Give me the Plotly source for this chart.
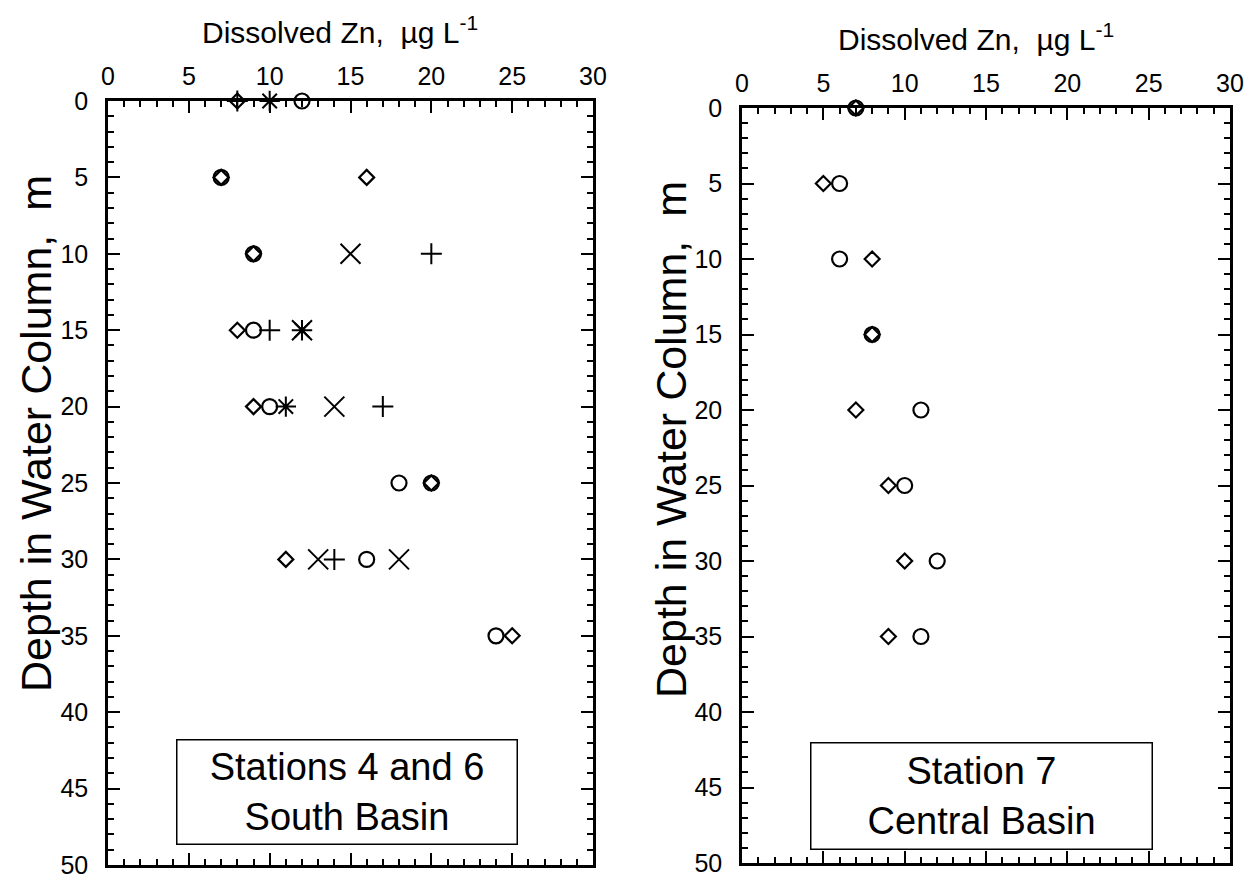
import plotly.graph_objects as go

# ---------------- data ----------------
# Left panel: Stations 4 and 6, South Basin (Zn ug/L, depth m)
south_diamond_zn = [8, 7, 16, 9, 8, 9, 20, 11, 25]
south_diamond_depth = [0, 5, 5, 10, 15, 20, 25, 30, 35]
south_circle_zn = [12, 7, 9, 9, 10, 18, 20, 16, 24]
south_circle_depth = [0, 5, 10, 15, 20, 25, 25, 30, 35]
south_plus_zn = [8, 20, 10, 17, 14]
south_plus_depth = [0, 10, 15, 20, 30]
south_x_zn = [15, 12, 14, 13, 18]
south_x_depth = [10, 15, 20, 30, 30]
south_star_zn = [10, 12, 11]
south_star_depth = [0, 15, 20]

# Right panel: Station 7, Central Basin
central_diamond_zn = [7, 5, 8, 8, 7, 9, 10, 9]
central_diamond_depth = [0, 5, 10, 15, 20, 25, 30, 35]
central_circle_zn = [7, 6, 6, 8, 11, 10, 12, 11]
central_circle_depth = [0, 5, 10, 15, 20, 25, 30, 35]

x_ticks = [0, 5, 10, 15, 20, 25, 30]
y_ticks = [0, 5, 10, 15, 20, 25, 30, 35, 40, 45, 50]

x_title = "Dissolved Zn,\u00a0\u00a0\u00b5g L<sup>-1</sup>"
y_title = "Depth in Water Column,\u00a0\u00a0m"

FONT = "Liberation Sans, Arial, sans-serif"
W, H = 1258, 883

fig = go.Figure()

def add(x, y, symbol, size, xa, ya, lw=2.2):
    fig.add_trace(go.Scatter(
        x=x, y=y, mode="markers", xaxis=xa, yaxis=ya, showlegend=False,
        marker=dict(symbol=symbol, size=size, color="black",
                    line=dict(color="black", width=lw)),
        cliponaxis=False))

add(south_diamond_zn, south_diamond_depth, "diamond-open", 11.5, "x", "y")
add(south_circle_zn, south_circle_depth, "circle-open", 15, "x", "y")
add(south_plus_zn, south_plus_depth, "cross-thin-open", 15, "x", "y", 2)
add(south_x_zn, south_x_depth, "x-thin-open", 20, "x", "y", 2)
add(south_star_zn, south_star_depth, "asterisk-open", 17, "x", "y", 2)
add(central_diamond_zn, central_diamond_depth, "diamond-open", 11.5, "x2", "y2")
add(central_circle_zn, central_circle_depth, "circle-open", 15, "x2", "y2")

def px_x(p):
    return p / W

def px_y(p):
    return 1 - p / H

tickfont = dict(family=FONT, size=25, color="black")
titlefont = dict(family=FONT, size=30, color="black")
ytitlefont = dict(family=FONT, size=43, color="black")

def xaxis(dom, anchor):
    return dict(domain=dom, anchor=anchor, side="top", range=[0, 30],
                tickvals=x_ticks, ticks="inside", ticklen=12, tickwidth=2,
                minor=dict(dtick=1, ticks="inside", ticklen=6, tickwidth=1.5, tickcolor="black"),
                showline=True, linewidth=2.5, linecolor="black", mirror="ticks",
                showgrid=False, zeroline=False, tickfont=tickfont,
                ticklabelstandoff=3, automargin=False, tickcolor="black")

def yaxis(dom, anchor):
    return dict(domain=dom, anchor=anchor, range=[50, 0],
                tickvals=y_ticks, ticks="inside", ticklen=12, tickwidth=2,
                minor=dict(dtick=1, ticks="inside", ticklen=6, tickwidth=1.5, tickcolor="black"),
                showline=True, linewidth=2.5, linecolor="black", mirror="ticks",
                showgrid=False, zeroline=False, tickfont=tickfont,
                ticklabelstandoff=12, automargin=False, tickcolor="black")

fig.update_layout(
    width=W, height=H, margin=dict(l=0, r=0, t=0, b=0),
    paper_bgcolor="white", plot_bgcolor="white",
    xaxis=xaxis([px_x(108), px_x(593)], "y"),
    yaxis=yaxis([px_y(865), px_y(101)], "x"),
    xaxis2=xaxis([px_x(742), px_x(1230)], "y2"),
    yaxis2=yaxis([px_y(863), px_y(108)], "x2"),
)

def label(text, xc, yc, font, angle=0):
    fig.add_annotation(
        text=text, xref="paper", yref="paper", x=px_x(xc), y=px_y(yc),
        xanchor="center", yanchor="middle", showarrow=False,
        font=font, textangle=angle)

label(x_title, 340, 30, titlefont)
label(x_title, 976, 37, titlefont)
label(y_title, 36, 434, ytitlefont, -90)
label(y_title, 671, 440, ytitlefont, -90)

def box(text, xc, yc, w, h):
    fig.add_annotation(
        text=text, xref="paper", yref="paper", x=px_x(xc), y=px_y(yc),
        xanchor="center", yanchor="middle", showarrow=False,
        font=dict(family=FONT, size=38, color="black"),
        bordercolor="black", borderwidth=1.5, borderpad=1,
        bgcolor="white", width=w, height=h, align="center")

box("Stations 4 and 6<br>South Basin", 347, 792, 337, 101)
box("Station 7<br>Central Basin", 981, 796, 338, 103)

fig.write_html("out.html")
